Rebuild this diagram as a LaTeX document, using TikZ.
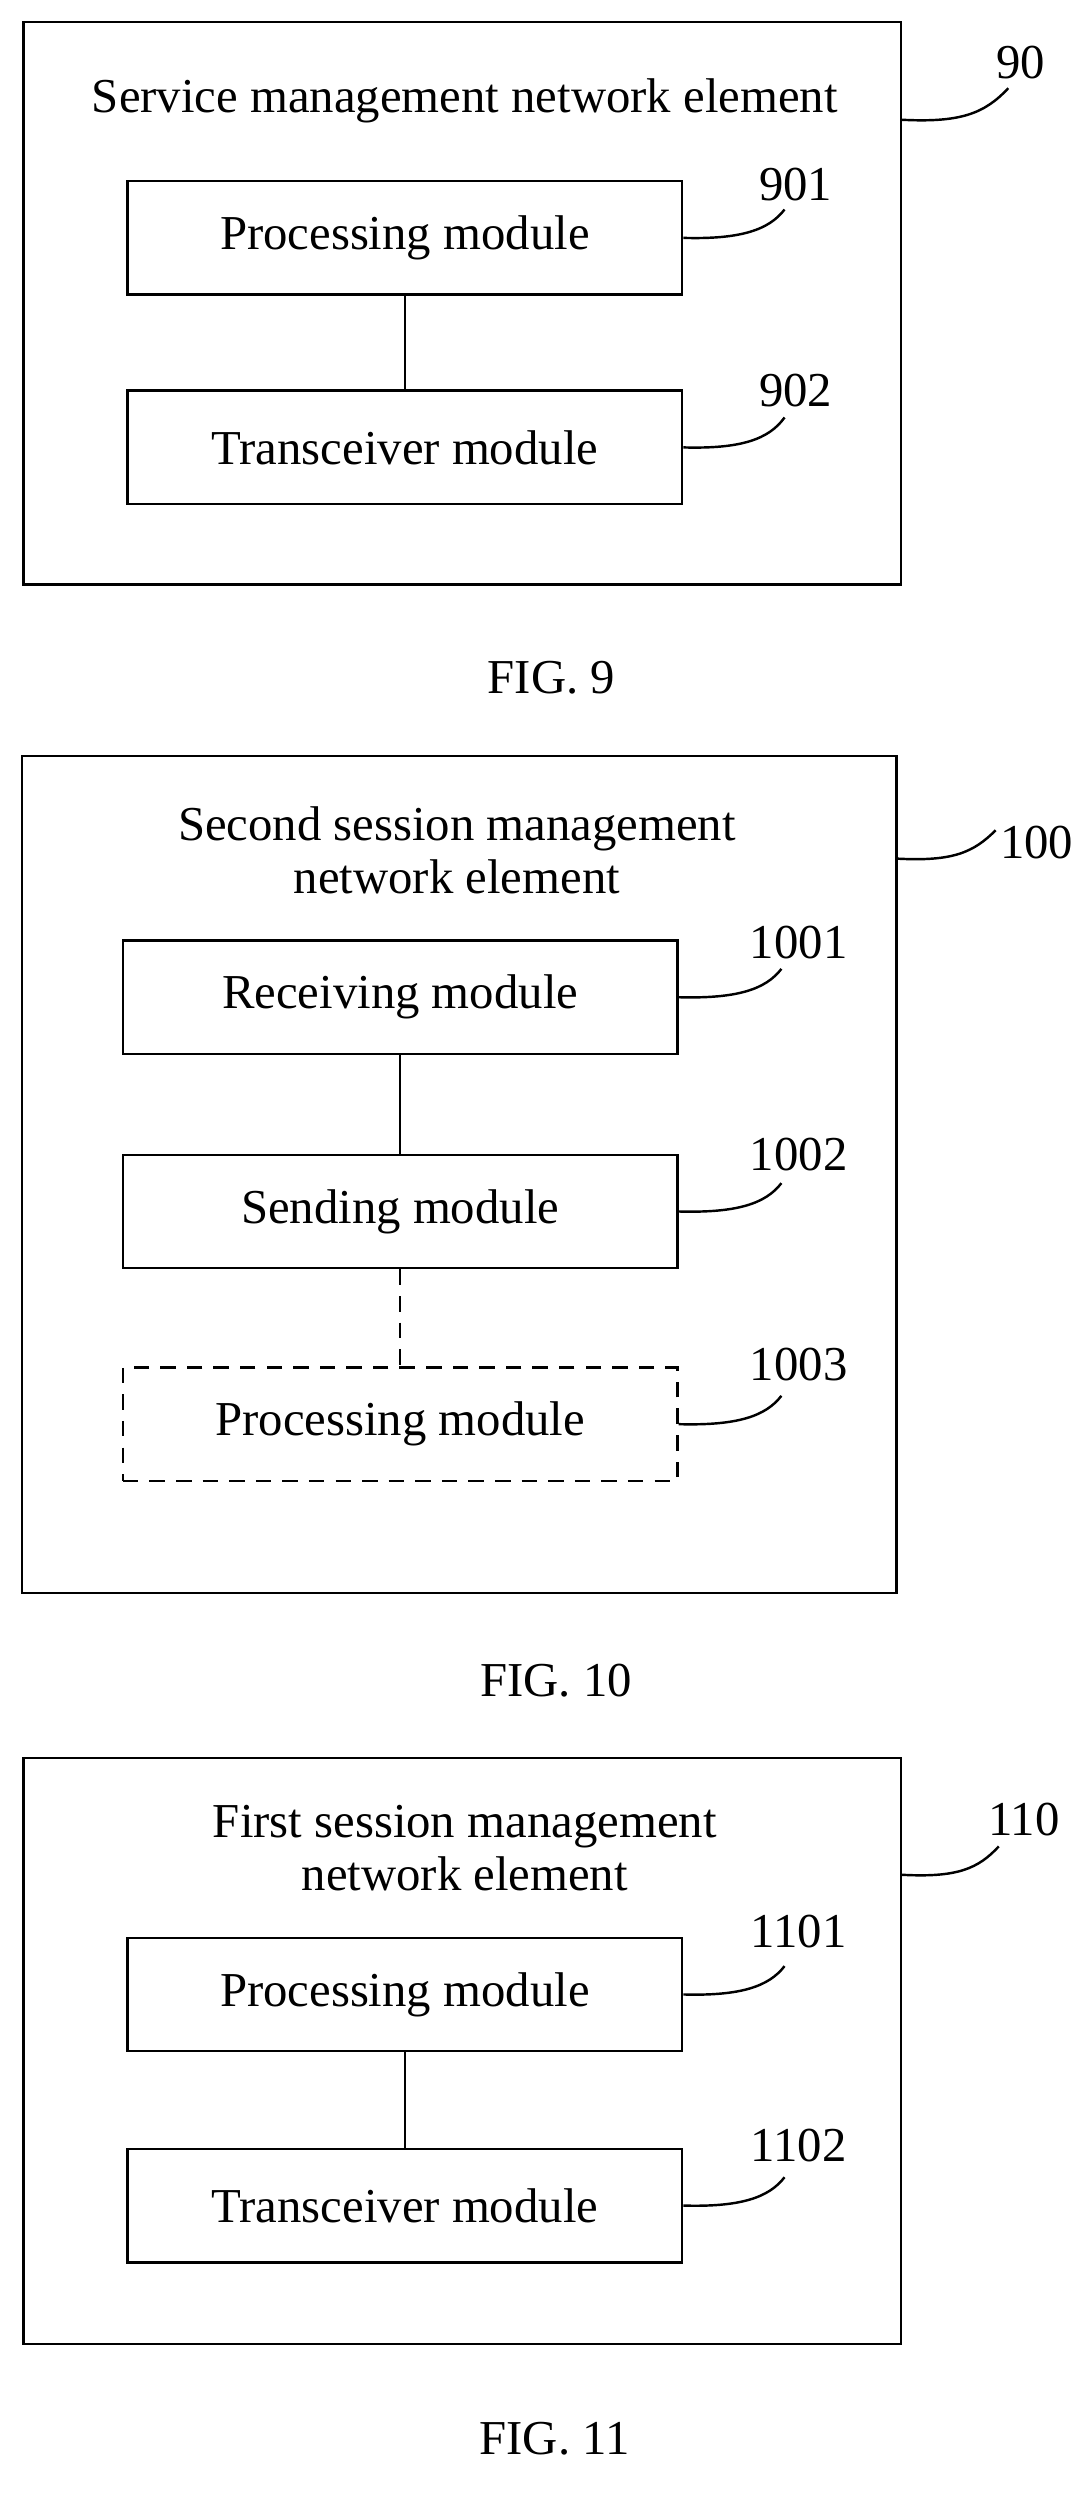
\documentclass[tikz,border=0pt]{standalone}
\usepackage{fontspec}
\setmainfont{Liberation Serif}
\begin{document}
\begin{tikzpicture}[x=0.025cm, y=-0.025cm, line width=1.1pt,
    txt/.style={font=\fontsize{22}{24}\selectfont, align=center, inner sep=0pt},
    module/.style={draw, minimum width=352*0.025cm, minimum height=72*0.025cm, txt},
    longdash/.style={dash pattern=on 7pt off 5pt},
    optmodule/.style={module, longdash},
    lead/.style={line width=1.1pt}]
\useasboundingbox (0,0) rectangle (690,1585);

% FIG. 9
\draw (15,14) rectangle (572,371);
\node[txt] (t9) at (295,64) {Service management network element};
\node[module] (p9) at (257,151) {Processing module};
\node[module] (r9) at (257,284) {Transceiver module};
\draw (p9) -- (r9);
\node[txt] (n90) at (648,40) {90};
\node[txt] (n901) at (505,117) {901};
\node[txt] (n902) at (505,248) {902};
\draw[lead] (572,76) .. controls (610,78) and (625,72) .. (640,56);
\draw[lead] (p9.east) .. controls (470,152) and (488,146) .. (498,133);
\draw[lead] (r9.east) .. controls (470,285) and (488,279) .. (498,265);
\node[txt] (f9) at (350,430) {FIG. 9};

% FIG. 10
\draw (14,480) rectangle (569,1011);
\node[txt] (t10) at (290,540) {Second session management\\network element};
\node[module] (a10) at (254,633) {Receiving module};
\node[module] (b10) at (254,769) {Sending module};
\node[optmodule] (c10) at (254,904) {Processing module};
\draw (a10) -- (b10);
\draw[longdash] (b10) -- (c10);
\node[txt] (n100) at (658,535) {100};
\node[txt] (n1001) at (507,598) {1001};
\node[txt] (n1002) at (507,733) {1002};
\node[txt] (n1003) at (507,866) {1003};
\draw[lead] (569,545) .. controls (605,547) and (618,541) .. (632,527);
\draw[lead] (a10.east) .. controls (468,634) and (486,628) .. (496,615);
\draw[lead] (b10.east) .. controls (468,770) and (486,764) .. (496,751);
\draw[lead] (c10.east) .. controls (468,905) and (486,899) .. (496,886);
\node[txt] (f10) at (353,1067) {FIG. 10};

% FIG. 11
\draw (15,1116) rectangle (572,1488);
\node[txt] (t11) at (295,1173) {First session management\\network element};
\node[module] (p11) at (257,1266) {Processing module};
\node[module] (r11) at (257,1400) {Transceiver module};
\draw (p11) -- (r11);
\node[txt] (n110) at (650,1155) {110};
\node[txt] (n1101) at (507,1226) {1101};
\node[txt] (n1102) at (507,1362) {1102};
\draw[lead] (572,1190) .. controls (608,1192) and (621,1186) .. (634,1172);
\draw[lead] (p11.east) .. controls (470,1267) and (488,1261) .. (498,1248);
\draw[lead] (r11.east) .. controls (470,1401) and (488,1395) .. (498,1382);
\node[txt] (f11) at (352,1548) {FIG. 11};
\end{tikzpicture}
\end{document}
